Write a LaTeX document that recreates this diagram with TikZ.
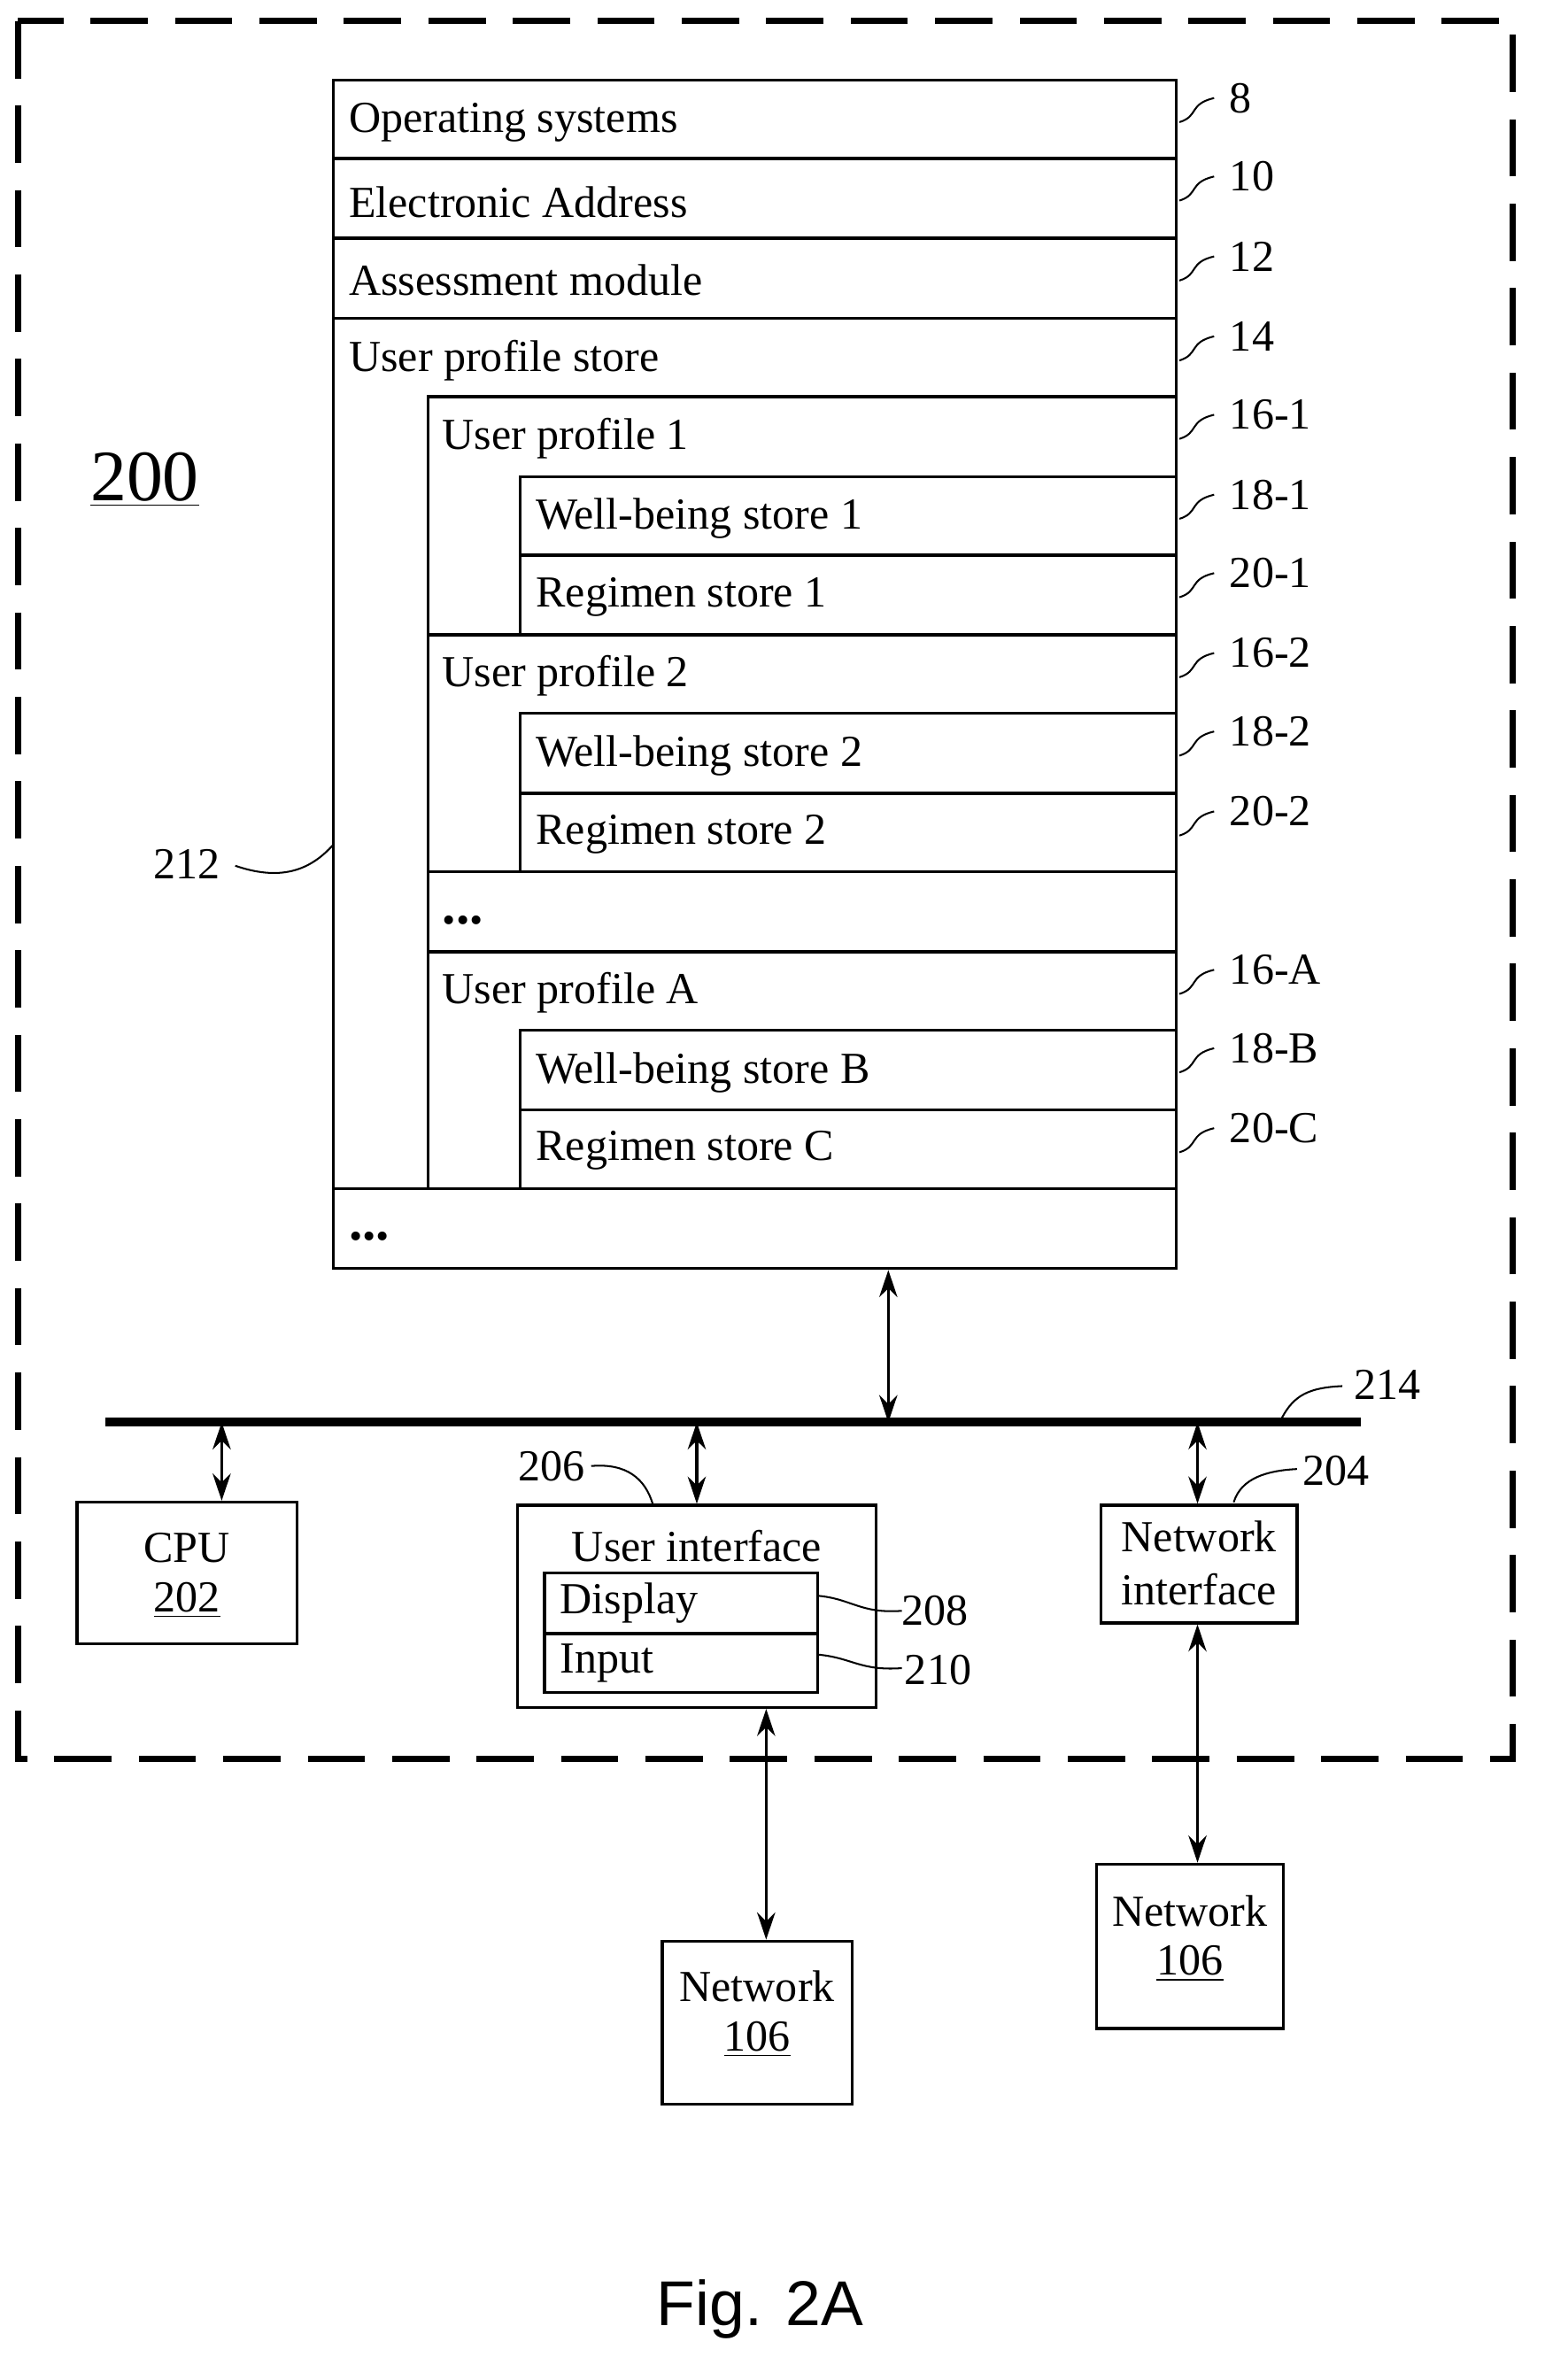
\documentclass[tikz,border=0pt]{standalone}
\usepackage{fontspec}
\setmainfont{Liberation Serif}
\newfontfamily\figfont{Liberation Sans}
\usetikzlibrary{fit,arrows.meta}
\begin{document}
\begin{tikzpicture}[x=0.5pt,y=-0.5pt,
 box/.style={draw,line width=1pt,inner sep=0pt},
 lbl/.style={anchor=west,inner sep=0pt,font=\fontsize{14.7}{16}\selectfont},
 num/.style={anchor=west,inner sep=0pt,font=\fontsize{14.7}{16}\selectfont},
 ctr/.style={inner sep=0pt,font=\fontsize{14.7}{16}\selectfont},
 lead/.style={line width=0.6pt},
 dbl/.style={line width=1pt,{Stealth[length=9pt,width=6pt]}-{Stealth[length=9pt,width=6pt]}}]
\useasboundingbox (0,0) rectangle (1024,1578);
\draw[line width=2pt,dash pattern=on 19pt off 9pt] (12,14) rectangle (1003,1166);
\node[inner sep=0pt,font=\fontsize{24}{26}\selectfont] (n200) at (96,318) {\underline{200}};
% stack
\node[box,fit={(221,53)(780,105)}] (os) {};
\node[box,fit={(221,105)(780,158)}] (ea) {};
\node[box,fit={(221,158)(780,211)}] (am) {};
\node[box,fit={(221,211)(780,788)}] (ups) {};
\node[box,fit={(284,263)(780,421)}] (up1) {};
\node[box,fit={(345,316)(780,368)}] (wb1) {};
\node[box,fit={(345,368)(780,421)}] (rs1) {};
\node[box,fit={(284,421)(780,578)}] (up2) {};
\node[box,fit={(345,473)(780,526)}] (wb2) {};
\node[box,fit={(345,526)(780,578)}] (rs2) {};
\node[box,fit={(284,578)(780,631)}] (dots1) {};
\node[box,fit={(284,631)(780,788)}] (upa) {};
\node[box,fit={(345,683)(780,736)}] (wbb) {};
\node[box,fit={(345,736)(780,788)}] (rsc) {};
\node[box,fit={(221,788)(780,841)}] (dots2) {};
\node[lbl] (t1) at (231,81) {Operating systems};
\node[lbl] (t2) at (231,134) {Electronic Address};
\node[lbl] (t3) at (231,186) {Assessment module};
\node[lbl] (t4) at (231,239) {User profile store};
\node[lbl] (t5) at (293,291) {User profile 1};
\node[lbl] (t6) at (355,344) {Well-being store 1};
\node[lbl] (t7) at (355,396) {Regimen store 1};
\node[lbl] (t8) at (293,448) {User profile 2};
\node[lbl] (t9) at (355,501) {Well-being store 2};
\node[lbl] (t10) at (355,553) {Regimen store 2};
\node[lbl] (t11) at (293,610) {\textbf{\fontsize{18}{18}\selectfont ...}};
\node[lbl] (t12) at (293,658) {User profile A};
\node[lbl] (t13) at (355,711) {Well-being store B};
\node[lbl] (t14) at (355,763) {Regimen store C};
\node[lbl] (t15) at (231,820) {\textbf{\fontsize{18}{18}\selectfont ...}};
% right labels
\foreach \y/\t/\n in {53/8/a,105/10/b,158/12/c,211/14/d,263/16-1/e,316/18-1/f,368/20-1/g,421/16-2/h,473/18-2/i,526/20-2/j,631/16-A/k,683/18-B/l,736/20-C/m}{
  \node[num] (r\n) at (815,\y+12) {\t};
  \draw[lead] (782,\y+28) .. controls (795,\y+24) and (788,\y+16) .. (805,\y+12);
}
\node[ctr] (l212) at (124,573) {212};
\draw[lead] (156,574) .. controls (185,584) and (205,578) .. (221,560);
% bus
\coordinate (busl) at (70,943);
\coordinate (busr) at (902,943);
\draw[line width=3pt] (busl) -- (busr);
\node[ctr] (l214) at (920,918) {214};
\draw[lead] (850,940) .. controls (858,925) and (868,920) .. (890,919);
\coordinate (bm) at (589,943);
\draw[dbl] (dots2.south -| bm) -- (bm);
% CPU
\node[box,fit={(51,996)(197,1090)}] (cpu) {};
\node[ctr] (cput) at (124,1026) {CPU};
\node[ctr] (cpun) at (124,1061) {\underline{202}};
\coordinate (bc) at (147,943);
\draw[dbl] (bc) -- (cpu.north -| bc);
% UI
\node[box,fit={(343,998)(581,1132)}] (ui) {};
\node[ctr] (uit) at (462,1025) {User interface};
\node[box,fit={(361,1043)(542,1083)}] (disp) {};
\node[box,fit={(361,1083)(542,1122)}] (inp) {};
\node[lbl] (dispt) at (371,1063) {Display};
\node[lbl] (inpt) at (371,1103) {Input};
\node[ctr] (l208) at (620,1068) {208};
\node[ctr] (l210) at (622,1107) {210};
\draw[lead] (542,1058) .. controls (565,1060) and (570,1070) .. (598,1068);
\draw[lead] (542,1097) .. controls (565,1099) and (570,1108) .. (598,1106);
\coordinate (bu) at (462,943);
\draw[dbl] (bu) -- (ui.north -| bu);
\node[ctr] (l206) at (366,972) {206};
\draw[lead] (392,972) .. controls (415,970) and (428,980) .. (433,998);
% Network interface
\node[box,fit={(730,998)(860,1076)}] (ni) {};
\node[ctr] (nit1) at (795,1019) {Network};
\node[ctr] (nit2) at (795,1054) {interface};
\coordinate (bn) at (794,943);
\draw[dbl] (bn) -- (ni.north -| bn);
\node[ctr] (l204) at (886,975) {204};
\draw[lead] (818,996) .. controls (823,980) and (840,975) .. (860,974);
% Networks
\node[box,fit={(439,1287)(565,1395)}] (net1) {};
\node[ctr] (net1a) at (502,1317) {Network};
\node[ctr] (net1b) at (502,1352) {\underline{106}};
\coordinate (x1) at (508,0);
\draw[dbl] (ui.south -| x1) -- (net1.north -| x1);
\node[box,fit={(727,1236)(851,1345)}] (net2) {};
\node[ctr] (net2a) at (789,1267) {Network};
\node[ctr] (net2b) at (789,1302) {\underline{106}};
\coordinate (x2) at (794,0);
\draw[dbl] (ni.south -| x2) -- (net2.north -| x2);
\node[inner sep=0pt,font=\figfont\fontsize{21}{24}\selectfont] (fig) at (504,1531) {Fig. 2A};
\end{tikzpicture}
\end{document}
